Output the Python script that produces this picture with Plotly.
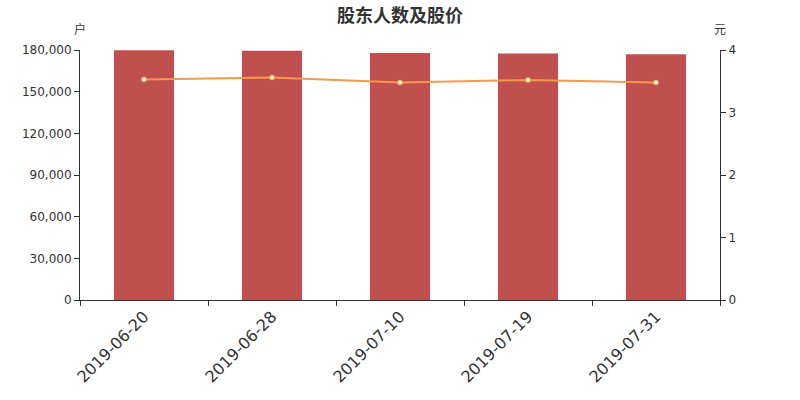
import plotly.graph_objects as go

dates = ["2019-06-20", "2019-06-28", "2019-07-10", "2019-07-19", "2019-07-31"]
holders = [179900, 179500, 177800, 177500, 176900]
price = [3.53, 3.56, 3.48, 3.52, 3.48]

fig = go.Figure()
fig.add_trace(go.Bar(x=dates, y=holders, marker=dict(color="#c0504d", line=dict(width=0)),
                     width=0.47, name="股东人数"))
fig.add_trace(go.Scatter(x=dates, y=price, yaxis="y2", mode="lines+markers",
                         line=dict(color="#f5994a", width=2),
                         marker=dict(size=5, color="#fff4e0", line=dict(color="#f5994a", width=1)),
                         name="股价"))

axis_font = dict(family="DejaVu Sans", size=12, color="#333")
fig.update_layout(
    width=800, height=400,
    margin=dict(l=80, r=80, t=50, b=100, autoexpand=False),
    plot_bgcolor="white", paper_bgcolor="white",
    showlegend=False,
    title=dict(text="<b>股东人数及股价</b>", x=0.5, xanchor="center", y=0.962, yanchor="middle",
               font=dict(family="Noto Sans CJK SC", size=18, color="#333")),
    xaxis=dict(type="category", tickson="boundaries", ticks="outside", ticklen=5,
               showline=True, linecolor="#333", tickcolor="#333", tickangle=-45,
               tickfont=dict(family="DejaVu Sans", size=16, color="#333"), showgrid=False,
               automargin=False),
    yaxis=dict(range=[0, 180000], dtick=30000, tickformat=",", ticks="outside", ticklen=5,
               showline=True, linecolor="#333", tickcolor="#333", showgrid=False,
               tickfont=axis_font, zeroline=False, automargin=False),
    yaxis2=dict(range=[0, 4], dtick=1, overlaying="y", side="right", ticks="outside", ticklen=5,
                showline=True, linecolor="#333", tickcolor="#333", showgrid=False,
                tickfont=axis_font, zeroline=False, automargin=False),
)
fig.add_annotation(text="户", xref="paper", yref="paper", x=0, y=1, yshift=22, showarrow=False,
                   xanchor="center", yanchor="middle",
                   font=dict(family="Noto Sans CJK SC", size=12, color="#333"))
fig.add_annotation(text="元", xref="paper", yref="paper", x=1, y=1, yshift=22, showarrow=False,
                   xanchor="center", yanchor="middle",
                   font=dict(family="Noto Sans CJK SC", size=12, color="#333"))
fig.write_html("out.html", config={"displayModeBar": False},
               post_script="document.body.style.margin='0';")
